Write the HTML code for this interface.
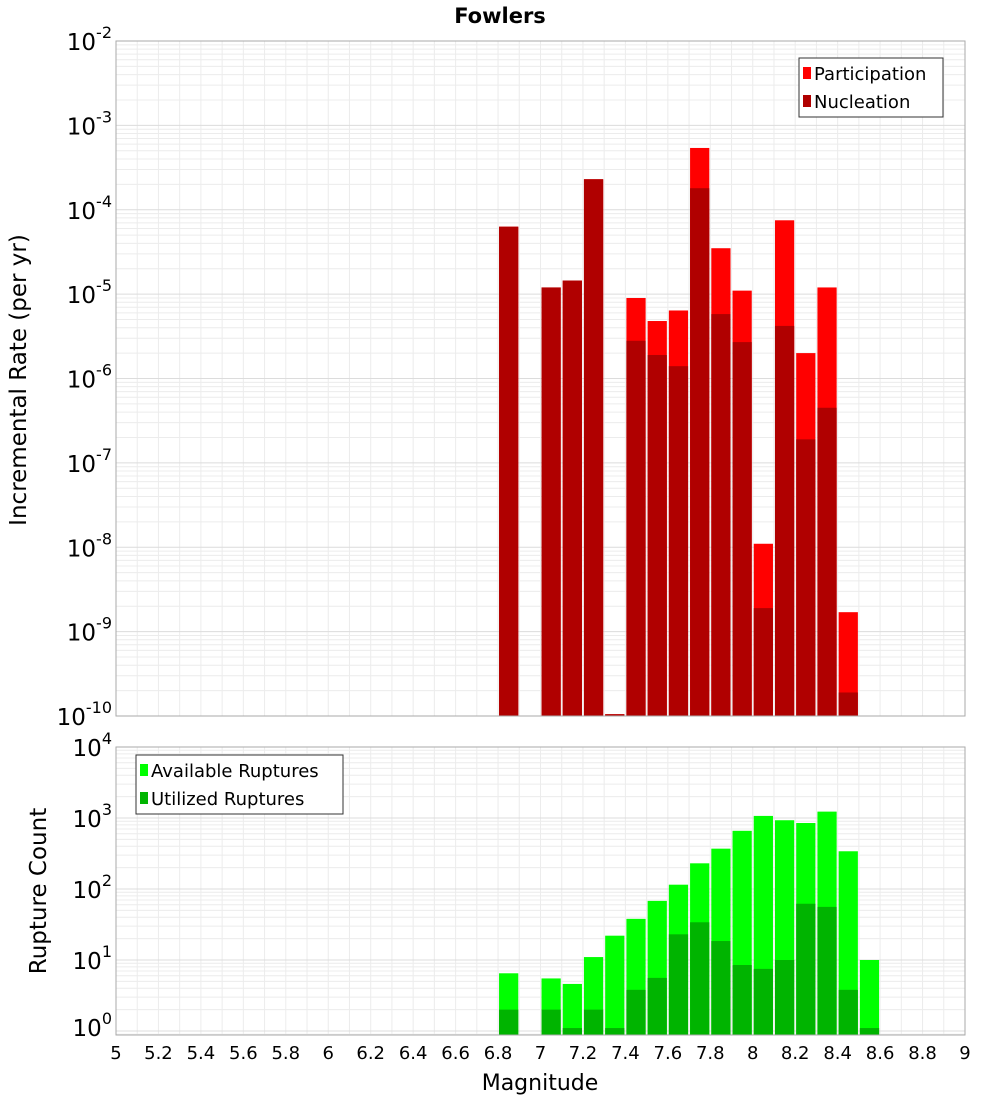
<!DOCTYPE html>
<html><head><meta charset="utf-8"><style>
body{margin:0;background:#fff;font-family:"Liberation Sans","DejaVu Sans",sans-serif}
svg text{font-family:"DejaVu Sans","Liberation Sans",sans-serif}
</style></head><body>
<svg id="chart" width="1000" height="1100" xmlns="http://www.w3.org/2000/svg"></svg>
<script>
const mags=[6.8,7.0,7.1,7.2,7.3,7.4,7.5,7.6,7.7,7.8,7.9,8.0,8.1,8.2,8.3,8.4];
const participation=[6.3e-5,1.2e-5,1.45e-5,2.3e-4,1.05e-10,9e-6,4.8e-6,6.4e-6,5.4e-4,3.5e-5,1.1e-5,1.1e-8,7.5e-5,2e-6,1.2e-5,1.7e-9];
const nucleation=[6.3e-5,1.2e-5,1.45e-5,2.3e-4,1.05e-10,2.8e-6,1.9e-6,1.4e-6,1.8e-4,5.8e-6,2.7e-6,1.9e-9,4.2e-6,1.9e-7,4.5e-7,1.9e-10];
const countMags=[6.8,7.0,7.1,7.2,7.3,7.4,7.5,7.6,7.7,7.8,7.9,8.0,8.1,8.2,8.3,8.4,8.5];
const available=[6.5,5.5,4.6,11,22,38,68,115,230,370,660,1070,930,850,1230,340,10];
const utilized=[2,2,1.1,2,1.1,3.8,5.6,23,34,18.5,8.5,7.5,10,62,56,3.8,1.1];
const xTicks=[5,5.2,5.4,5.6,5.8,6,6.2,6.4,6.6,6.8,7,7.2,7.4,7.6,7.8,8,8.2,8.4,8.6,8.8,9];
const topExps=[-2,-3,-4,-5,-6,-7,-8,-9,-10];
const botExps=[4,3,2,1,0];

const svg=document.getElementById('chart');
const NS='http://www.w3.org/2000/svg';
function mk(tag,attrs,parent){const e=document.createElementNS(NS,tag);for(const k in attrs)e.setAttribute(k,attrs[k]);(parent||svg).appendChild(e);return e;}
const X0=116,X1=965;
const x=m=>X0+(m-5)/4*(X1-X0);
const T0=41,T1=716;
const yTop=v=>T0+(-2-Math.log10(v))*(T1-T0)/8;
const B0=747,B1=1035,BD=71;
const yBot=v=>Math.min(B1,B0+(4-Math.log10(v))*BD);

function grid(top,bot,ylo,yhi,yfn,exps){
  for(let m=5;m<=9.001;m+=0.1){const l=mk('line',{x1:x(m),x2:x(m),y1:top,y2:bot,stroke:'#ececec','stroke-width':1});
    }
  for(let e=ylo;e<yhi;e++){for(let k=1;k<10;k++){const yy=yfn(k*Math.pow(10,e));if(yy<top||yy>bot)continue;
    const l=mk('line',{x1:X0,x2:X1,y1:yy,y2:yy,stroke:k==1?'#dcdcdc':'#ececec','stroke-width':1});
    }}
}
grid(T0,T1,-10,-2,yTop);
grid(B0,B1,-1,4,yBot);

// top bars
mags.forEach((m,i)=>{
  const r=mk('rect',{x:x(m)+1,y:yTop(participation[i]),width:x(m+0.1)-x(m)-2,height:T1-yTop(participation[i]),fill:'#ff0000'});
  
  const n=mk('rect',{x:x(m)+1,y:yTop(nucleation[i]),width:x(m+0.1)-x(m)-2,height:T1-yTop(nucleation[i]),fill:'#b00000'});
  
});
countMags.forEach((m,i)=>{
  const r=mk('rect',{x:x(m)+1,y:yBot(available[i]),width:x(m+0.1)-x(m)-2,height:B1-yBot(available[i]),fill:'#00ff00'});
  
  const n=mk('rect',{x:x(m)+1,y:yBot(utilized[i]),width:x(m+0.1)-x(m)-2,height:B1-yBot(utilized[i]),fill:'#00b400'});
  
});
const f1=mk('rect',{x:X0,y:T0,width:X1-X0,height:T1-T0,fill:'none',stroke:'#aaa'});

const f2=mk('rect',{x:X0,y:B0,width:X1-X0,height:B1-B0,fill:'none',stroke:'#aaa'});


function pow(xr,yy,e,name){
  const t=mk('text',{x:xr,y:yy+9,'text-anchor':'end','font-size':23,fill:'#000'});
  
  const a=document.createElementNS(NS,'tspan');a.textContent='10';t.appendChild(a);
  const b=document.createElementNS(NS,'tspan');b.setAttribute('dy','-12');b.setAttribute('font-size','16');b.textContent=String(e);t.appendChild(b);
}
topExps.forEach(e=>pow(112,yTop(Math.pow(10,e)),e,'y-tick-label'));
botExps.forEach(e=>pow(112,yBot(Math.pow(10,e))-(e==0?4:0),e,'count-tick-label'));
xTicks.forEach(v=>{const t=mk('text',{x:x(v),y:1059,'text-anchor':'middle','font-size':18});t.textContent=String(v);
  });

function txt(s,attrs,name){const t=mk('text',attrs);t.textContent=s;return t;}
txt('Fowlers',{x:500,y:23,'text-anchor':'middle','font-size':21,'font-weight':'bold'},'chart-title');
txt('Magnitude',{x:540,y:1090,'text-anchor':'middle','font-size':22},'x-axis-title');
txt('Incremental Rate (per yr)',{x:0,y:0,'text-anchor':'middle','font-size':23,transform:'translate(26,380) rotate(-90)'},'y-axis-title');
txt('Rupture Count',{x:0,y:0,'text-anchor':'middle','font-size':23,transform:'translate(46,891) rotate(-90)'},'count-axis-title');

function legend(x0,y0,w,items,name){
  const g=mk('g',{});
  mk('rect',{x:x0,y:y0,width:w,height:59,fill:'#fff',stroke:'#333'},g);
  items.forEach((it,i)=>{const yy=y0+15+i*28;
    const s=mk('rect',{x:x0+4,y:yy-6,width:8,height:12,fill:it[1]},g);
    
    const t=mk('text',{x:x0+15,y:yy+7,'font-size':18},g);t.textContent=it[0];
    });
}
legend(799,58,144,[['Participation','#ff0000'],['Nucleation','#b00000']],'rate-legend');
legend(136,755,207,[['Available Ruptures','#00ff00'],['Utilized Ruptures','#00b400']],'count-legend');
</script>
</body></html>
